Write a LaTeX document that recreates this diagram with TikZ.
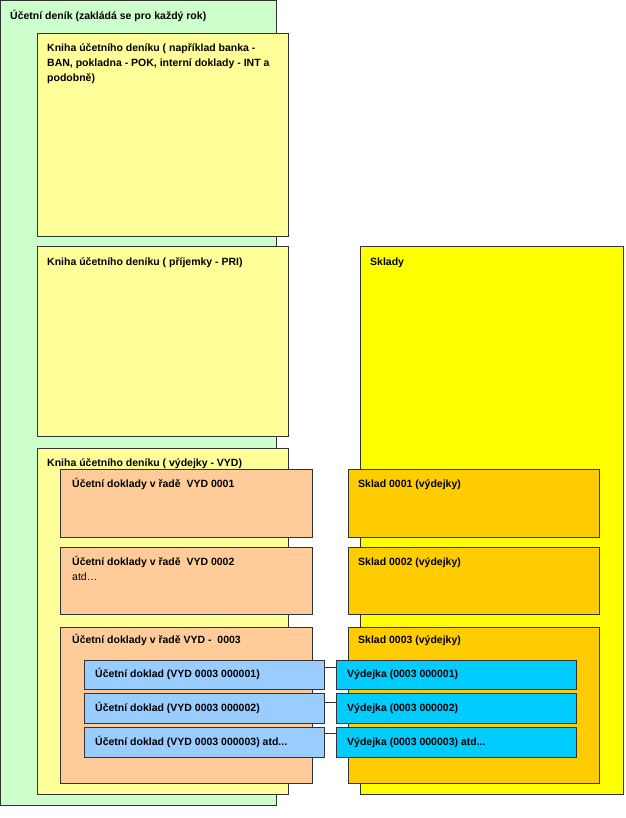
\documentclass[tikz,border=0pt]{standalone}
\usepackage{fontspec}
\setmainfont{Liberation Sans}
\usetikzlibrary{shadows}
\definecolor{cgreen}{HTML}{CCFFCC}
\definecolor{clyellow}{HTML}{FFFF99}
\definecolor{cyellow}{HTML}{FFFF00}
\definecolor{corange}{HTML}{FFCC99}
\definecolor{cgold}{HTML}{FFCC00}
\definecolor{clblue}{HTML}{99CCFF}
\definecolor{ccyan}{HTML}{00CCFF}
\begin{document}
\begin{tikzpicture}[x=1pt,y=-1pt,
  box/.style={draw=black!80, line width=0.7pt, anchor=north west, inner sep=0pt, outer sep=0pt,
    general shadow={fill=black!60, shadow xshift=1.2pt, shadow yshift=-1.2pt}},
  lbl/.style={anchor=base west, inner sep=0pt, font=\fontsize{10.5}{15}\selectfont\bfseries, align=left},
  conn/.style={draw=black!80, line width=0.8pt}]
\useasboundingbox (0,0) rectangle (625,818);
% big containers
\node[box, fill=cgreen, minimum width=276pt, minimum height=805pt] (green) at (0,0) {};
\node[box, fill=clyellow, minimum width=251pt, minimum height=203pt] (kn1) at (37,33) {};
\node[box, fill=clyellow, minimum width=251pt, minimum height=190pt] (kn2) at (37,246) {};
\node[box, fill=clyellow, minimum width=251pt, minimum height=346pt] (kn3) at (37,448) {};
\node[box, fill=cyellow, minimum width=263pt, minimum height=548pt] (sklady) at (360,246) {};
% series and warehouses
\node[box, fill=corange, minimum width=252pt, minimum height=68pt] (o1) at (60,469) {};
\node[box, fill=corange, minimum width=252pt, minimum height=67pt] (o2) at (60,547) {};
\node[box, fill=corange, minimum width=252pt, minimum height=156pt] (o3) at (60,627) {};
\node[box, fill=cgold, minimum width=251pt, minimum height=68pt] (s1) at (348,469) {};
\node[box, fill=cgold, minimum width=251pt, minimum height=67pt] (s2) at (348,547) {};
\node[box, fill=cgold, minimum width=251pt, minimum height=156pt] (s3) at (348,627) {};
% documents
\node[box, fill=clblue, minimum width=240pt, minimum height=29pt] (b1) at (84,660) {};
\node[box, fill=clblue, minimum width=240pt, minimum height=30pt] (b2) at (84,693) {};
\node[box, fill=clblue, minimum width=240pt, minimum height=30pt] (b3) at (84,727) {};
\node[box, fill=ccyan, minimum width=240pt, minimum height=29pt] (c1) at (336,660) {};
\node[box, fill=ccyan, minimum width=240pt, minimum height=30pt] (c2) at (336,693) {};
\node[box, fill=ccyan, minimum width=240pt, minimum height=30pt] (c3) at (336,727) {};
% connectors
\draw[conn] ([yshift=-7pt]b1.north east) -- ([yshift=-7pt]c1.north west);
\draw[conn] ([yshift=-9pt]b2.north east) -- ([yshift=-9pt]c2.north west);
\draw[conn] ([yshift=-6pt]b3.north east) -- ([yshift=-6pt]c3.north west);
% labels
\node[lbl] (tgreen) at (10,20) {Účetní deník (zakládá se pro každý rok)};
\node[lbl] (tkn1) at (47,82) {Kniha účetního deníku ( například banka -\\BAN, pokladna - POK, interní doklady - INT a\\podobně)};
\node[lbl] (tkn2) at (47,265) {Kniha účetního deníku ( příjemky - PRI)};
\node[lbl] (tkn3) at (47,466) {Kniha účetního deníku ( výdejky - VYD)};
\node[lbl] (tsk) at (370,265) {Sklady};
\node[lbl] (to1) at (72,487) {Účetní doklady v řadě\ \ VYD 0001};
\node[lbl] (to2) at (72,580) {Účetní doklady v řadě\ \ VYD 0002\\\mdseries atd…};
\node[lbl] (to3) at (72,643) {Účetní doklady v řadě VYD -\ \ 0003};
\node[lbl] (ts1) at (358,487) {Sklad 0001 (výdejky)};
\node[lbl] (ts2) at (358,565) {Sklad 0002 (výdejky)};
\node[lbl] (ts3) at (358,643) {Sklad 0003 (výdejky)};
\node[lbl] (tb1) at (95,677) {Účetní doklad (VYD 0003 000001)};
\node[lbl] (tb2) at (95,711) {Účetní doklad (VYD 0003 000002)};
\node[lbl] (tb3) at (95,745) {Účetní doklad (VYD 0003 000003) atd...};
\node[lbl] (tc1) at (347,677) {Výdejka (0003 000001)};
\node[lbl] (tc2) at (347,711) {Výdejka (0003 000002)};
\node[lbl] (tc3) at (347,745) {Výdejka (0003 000003) atd...};
\end{tikzpicture}
\end{document}
